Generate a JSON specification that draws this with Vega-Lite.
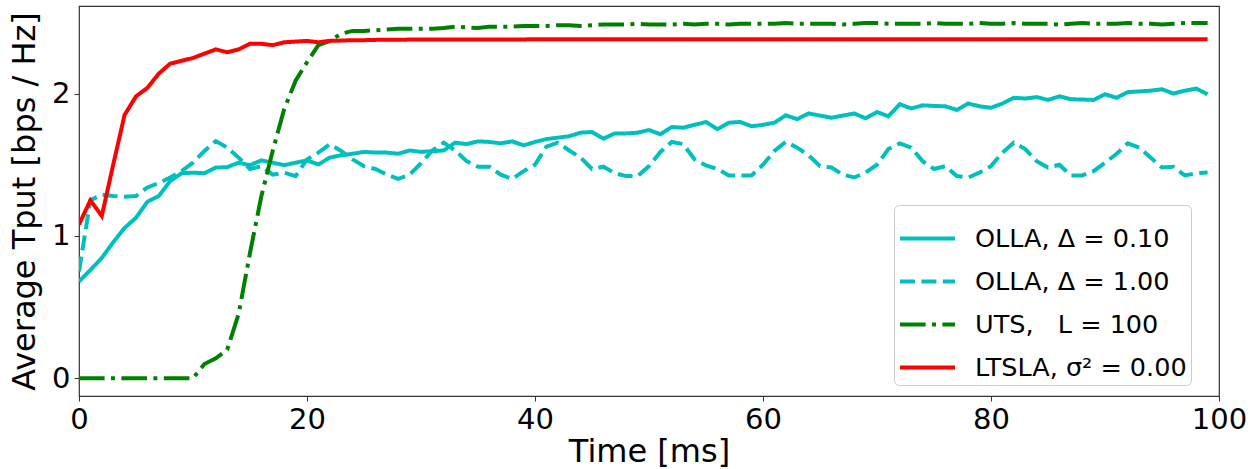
{
  "$schema": "https://vega.github.io/schema/vega-lite/v6.json",
  "width": 1140,
  "height": 390,
  "autosize": {"type": "none"},
  "padding": {"left": 79, "top": 6, "right": 39, "bottom": 73},
  "config": {
    "font": "DejaVu Sans",
    "view": {"stroke": "#333333", "strokeWidth": 1.2},
    "axis": {"grid": false, "domain": false, "tickColor": "#333333", "tickSize": 5, "labelColor": "#000000", "titleColor": "#000000", "labelFont": "DejaVu Sans", "titleFont": "DejaVu Sans", "labelFontSize": 29, "titleFontSize": 32, "titleFontWeight": "normal"},
    "legend": {
      "title": null, "orient": "none", "legendX": 815, "legendY": 199,
      "symbolType": "stroke", "symbolSize": 3025, "symbolStrokeWidth": 4,
      "labelFontSize": 25.5, "labelFont": "DejaVu Sans", "labelColor": "#000000",
      "labelOffset": 18, "rowPadding": -19.7, "padding": 4,
      "cornerRadius": 5, "strokeColor": "#cccccc", "fillColor": "rgba(255,255,255,0.8)",
      "labelLimit": 400
    }
  },
  "data": {
    "values": [
      {"t":0,"a":0.68,"b":0.75,"c":0,"d":1.08},
      {"t":1,"a":0.76,"b":1.25,"c":0,"d":1.25},
      {"t":2,"a":0.845,"b":1.29,"c":0,"d":1.14},
      {"t":3,"a":0.955,"b":1.28,"c":0,"d":1.5},
      {"t":4,"a":1.056,"b":1.275,"c":0,"d":1.85},
      {"t":5,"a":1.127,"b":1.28,"c":0,"d":1.98},
      {"t":6,"a":1.24,"b":1.34,"c":0,"d":2.04},
      {"t":7,"a":1.28,"b":1.37,"c":0,"d":2.14},
      {"t":8,"a":1.385,"b":1.41,"c":0,"d":2.21},
      {"t":9,"a":1.44,"b":1.455,"c":0,"d":2.23},
      {"t":10,"a":1.444,"b":1.514,"c":0,"d":2.25},
      {"t":11,"a":1.44,"b":1.596,"c":0.1,"d":2.28},
      {"t":12,"a":1.48,"b":1.666,"c":0.14,"d":2.31},
      {"t":13,"a":1.483,"b":1.62,"c":0.2,"d":2.29},
      {"t":14,"a":1.514,"b":1.55,"c":0.45,"d":2.31},
      {"t":15,"a":1.497,"b":1.47,"c":0.88,"d":2.35},
      {"t":16,"a":1.53,"b":1.49,"c":1.28,"d":2.35},
      {"t":17,"a":1.514,"b":1.43,"c":1.6,"d":2.34},
      {"t":18,"a":1.497,"b":1.444,"c":1.89,"d":2.36},
      {"t":19,"a":1.514,"b":1.42,"c":2.09,"d":2.365},
      {"t":20,"a":1.53,"b":1.537,"c":2.22,"d":2.37},
      {"t":21,"a":1.502,"b":1.585,"c":2.34,"d":2.36},
      {"t":22,"a":1.55,"b":1.643,"c":2.37,"d":2.37},
      {"t":23,"a":1.566,"b":1.596,"c":2.42,"d":2.372},
      {"t":24,"a":1.577,"b":1.537,"c":2.44,"d":2.375},
      {"t":25,"a":1.59,"b":1.49,"c":2.44,"d":2.375},
      {"t":26,"a":1.585,"b":1.47,"c":2.445,"d":2.377},
      {"t":27,"a":1.585,"b":1.43,"c":2.45,"d":2.378},
      {"t":28,"a":1.577,"b":1.4,"c":2.455,"d":2.378},
      {"t":29,"a":1.6,"b":1.43,"c":2.455,"d":2.379},
      {"t":30,"a":1.59,"b":1.51,"c":2.455,"d":2.38},
      {"t":31,"a":1.595,"b":1.6,"c":2.455,"d":2.38},
      {"t":32,"a":1.6,"b":1.655,"c":2.46,"d":2.38},
      {"t":33,"a":1.655,"b":1.6,"c":2.47,"d":2.38},
      {"t":34,"a":1.645,"b":1.525,"c":2.465,"d":2.38},
      {"t":35,"a":1.664,"b":1.486,"c":2.46,"d":2.38},
      {"t":36,"a":1.66,"b":1.486,"c":2.47,"d":2.38},
      {"t":37,"a":1.65,"b":1.43,"c":2.47,"d":2.38},
      {"t":38,"a":1.664,"b":1.4,"c":2.47,"d":2.38},
      {"t":39,"a":1.636,"b":1.455,"c":2.475,"d":2.38},
      {"t":40,"a":1.66,"b":1.5,"c":2.475,"d":2.382},
      {"t":41,"a":1.68,"b":1.627,"c":2.475,"d":2.382},
      {"t":42,"a":1.69,"b":1.655,"c":2.48,"d":2.382},
      {"t":43,"a":1.7,"b":1.6,"c":2.48,"d":2.382},
      {"t":44,"a":1.725,"b":1.55,"c":2.475,"d":2.382},
      {"t":45,"a":1.73,"b":1.47,"c":2.48,"d":2.382},
      {"t":46,"a":1.683,"b":1.486,"c":2.485,"d":2.382},
      {"t":47,"a":1.72,"b":1.44,"c":2.485,"d":2.382},
      {"t":48,"a":1.72,"b":1.42,"c":2.485,"d":2.382},
      {"t":49,"a":1.725,"b":1.42,"c":2.49,"d":2.382},
      {"t":50,"a":1.744,"b":1.49,"c":2.485,"d":2.382},
      {"t":51,"a":1.714,"b":1.59,"c":2.485,"d":2.382},
      {"t":52,"a":1.765,"b":1.66,"c":2.485,"d":2.382},
      {"t":53,"a":1.76,"b":1.645,"c":2.49,"d":2.382},
      {"t":54,"a":1.78,"b":1.537,"c":2.485,"d":2.382},
      {"t":55,"a":1.8,"b":1.495,"c":2.49,"d":2.382},
      {"t":56,"a":1.75,"b":1.47,"c":2.49,"d":2.382},
      {"t":57,"a":1.795,"b":1.425,"c":2.485,"d":2.382},
      {"t":58,"a":1.8,"b":1.425,"c":2.49,"d":2.382},
      {"t":59,"a":1.77,"b":1.425,"c":2.49,"d":2.382},
      {"t":60,"a":1.78,"b":1.5,"c":2.49,"d":2.382},
      {"t":61,"a":1.795,"b":1.596,"c":2.49,"d":2.382},
      {"t":62,"a":1.847,"b":1.66,"c":2.495,"d":2.382},
      {"t":63,"a":1.82,"b":1.62,"c":2.49,"d":2.382},
      {"t":64,"a":1.86,"b":1.566,"c":2.49,"d":2.382},
      {"t":65,"a":1.845,"b":1.49,"c":2.49,"d":2.382},
      {"t":66,"a":1.83,"b":1.48,"c":2.49,"d":2.382},
      {"t":67,"a":1.845,"b":1.43,"c":2.485,"d":2.382},
      {"t":68,"a":1.86,"b":1.41,"c":2.49,"d":2.382},
      {"t":69,"a":1.826,"b":1.445,"c":2.495,"d":2.382},
      {"t":70,"a":1.87,"b":1.5,"c":2.495,"d":2.382},
      {"t":71,"a":1.84,"b":1.61,"c":2.49,"d":2.382},
      {"t":72,"a":1.925,"b":1.65,"c":2.49,"d":2.382},
      {"t":73,"a":1.895,"b":1.62,"c":2.49,"d":2.382},
      {"t":74,"a":1.917,"b":1.525,"c":2.49,"d":2.382},
      {"t":75,"a":1.913,"b":1.47,"c":2.495,"d":2.382},
      {"t":76,"a":1.91,"b":1.49,"c":2.49,"d":2.382},
      {"t":77,"a":1.885,"b":1.42,"c":2.49,"d":2.382},
      {"t":78,"a":1.93,"b":1.41,"c":2.49,"d":2.382},
      {"t":79,"a":1.91,"b":1.445,"c":2.495,"d":2.382},
      {"t":80,"a":1.9,"b":1.49,"c":2.49,"d":2.382},
      {"t":81,"a":1.93,"b":1.585,"c":2.49,"d":2.382},
      {"t":82,"a":1.97,"b":1.655,"c":2.495,"d":2.382},
      {"t":83,"a":1.965,"b":1.61,"c":2.49,"d":2.382},
      {"t":84,"a":1.975,"b":1.525,"c":2.49,"d":2.382},
      {"t":85,"a":1.955,"b":1.48,"c":2.49,"d":2.382},
      {"t":86,"a":1.98,"b":1.5,"c":2.485,"d":2.382},
      {"t":87,"a":1.96,"b":1.425,"c":2.49,"d":2.382},
      {"t":88,"a":1.958,"b":1.425,"c":2.495,"d":2.382},
      {"t":89,"a":1.955,"b":1.455,"c":2.49,"d":2.382},
      {"t":90,"a":1.995,"b":1.514,"c":2.49,"d":2.382},
      {"t":91,"a":1.97,"b":1.575,"c":2.49,"d":2.382},
      {"t":92,"a":2.01,"b":1.65,"c":2.495,"d":2.382},
      {"t":93,"a":2.015,"b":1.62,"c":2.49,"d":2.382},
      {"t":94,"a":2.02,"b":1.55,"c":2.49,"d":2.382},
      {"t":95,"a":2.03,"b":1.48,"c":2.485,"d":2.382},
      {"t":96,"a":2.0,"b":1.485,"c":2.49,"d":2.382},
      {"t":97,"a":2.02,"b":1.425,"c":2.495,"d":2.382},
      {"t":98,"a":2.035,"b":1.44,"c":2.495,"d":2.382},
      {"t":99,"a":1.995,"b":1.445,"c":2.495,"d":2.382}
    ]
  },
  "transform": [{"fold": ["a", "b", "c", "d"], "as": ["series", "value"]}],
  "mark": {"type": "line", "strokeWidth": 4, "clip": true},
  "encoding": {
    "x": {
      "field": "t", "type": "quantitative",
      "scale": {"domain": [0, 100], "nice": false, "zero": false},
      "axis": {"values": [0, 20, 40, 60, 80, 100], "title": "Time [ms]", "labelPadding": 4, "titlePadding": 2, "labelFlush": false}
    },
    "y": {
      "field": "value", "type": "quantitative",
      "scale": {"domain": [-0.125, 2.615], "nice": false, "zero": false},
      "axis": {"values": [0, 1, 2], "title": "Average Tput [bps / Hz]", "labelPadding": 4, "titlePadding": 10}
    },
    "color": {
      "field": "series", "type": "nominal",
      "scale": {"domain": ["a", "b", "c", "d"], "range": ["#00bfbf", "#00bfbf", "#008000", "#ff0000"]},
      "legend": {
        "labelExpr": "datum.label == 'a' ? 'OLLA, Δ = 0.10' : datum.label == 'b' ? 'OLLA, Δ = 1.00' : datum.label == 'c' ? 'UTS,\u00a0\u00a0\u00a0L = 100' : 'LTSLA, σ² = 0.00'"
      }
    },
    "strokeDash": {
      "field": "series", "type": "nominal",
      "scale": {"domain": ["a", "b", "c", "d"], "range": [[1, 0], [15, 6.4], [25.6, 6.4, 4, 6.4], [1, 0]]},
      "legend": {
        "labelExpr": "datum.label == 'a' ? 'OLLA, Δ = 0.10' : datum.label == 'b' ? 'OLLA, Δ = 1.00' : datum.label == 'c' ? 'UTS,\u00a0\u00a0\u00a0L = 100' : 'LTSLA, σ² = 0.00'"
      }
    }
  }
}
